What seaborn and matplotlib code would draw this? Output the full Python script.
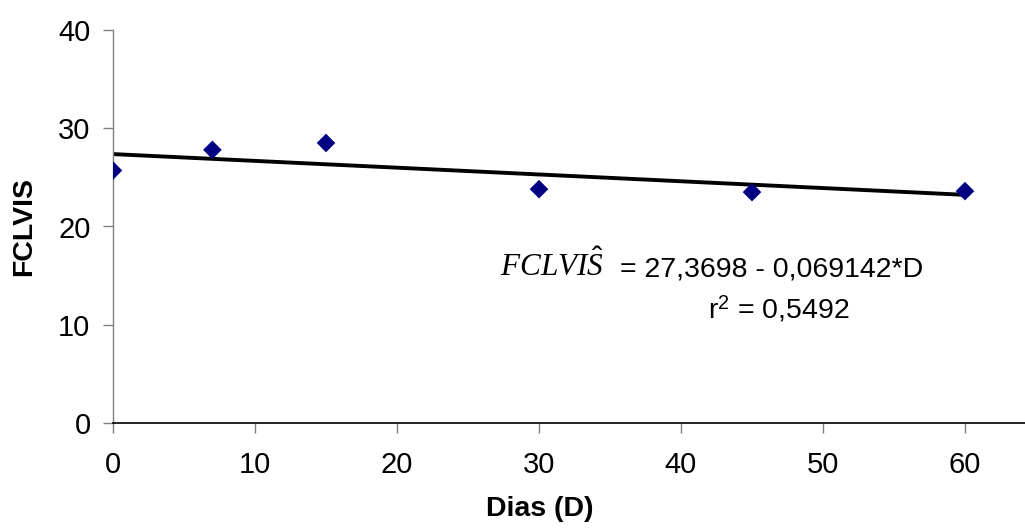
import numpy as np
import pandas as pd
import matplotlib
matplotlib.use("Agg")
import matplotlib.pyplot as plt
import seaborn as sns

# Data
dias = [0, 7, 15, 30, 45, 60]
fclvis = [25.7, 27.8, 28.5, 23.8, 23.5, 23.6]
intercept = 27.3698
slope = -0.069142
r2 = 0.5492
x_ticks = [0, 10, 20, 30, 40, 50, 60]
y_ticks = [0, 10, 20, 30, 40]

sns.set_theme(style="white")
plt.rcParams['font.family'] = ['Liberation Sans', 'DejaVu Sans']
plt.rcParams['mathtext.fontset'] = 'custom'
plt.rcParams['mathtext.rm'] = 'Liberation Sans'
plt.rcParams['mathtext.it'] = 'Liberation Serif:italic'
for k in ['text.color', 'axes.labelcolor', 'xtick.labelcolor', 'ytick.labelcolor']:
    plt.rcParams[k] = 'black'

fig = plt.figure(figsize=(10.25, 5.32), dpi=100)
ax = fig.add_axes([113/1025, 109/532, 912/1025, 393/532])

df = pd.DataFrame({"D": dias, "FCLVIS": fclvis})
fit_x = np.array([min(dias), max(dias)])
fit = pd.DataFrame({"D": fit_x, "y": intercept + slope * fit_x})

sns.lineplot(data=fit, x="D", y="y", color="black", linewidth=2.8, ax=ax, zorder=2)
sns.scatterplot(data=df, x="D", y="FCLVIS", marker="D", s=90, color="#000080",
                edgecolor="none", ax=ax, zorder=3)

ax.set_xlim(0, 912/14.2)
ax.set_ylim(0, 40)
ax.set_xticks(x_ticks)
ax.set_yticks(y_ticks)
ax.tick_params(axis='both', which='both', direction='out', length=7.2, width=1,
               color='#808080', labelsize=21, labelcolor='black')
ax.tick_params(axis='x', pad=13)
ax.tick_params(axis='y', pad=9)
ax.tick_params(left=True, bottom=True)
for s in ['top', 'right']:
    ax.spines[s].set_visible(False)
ax.spines['left'].set_color('#808080')
ax.spines['left'].set_linewidth(1)
ax.spines['bottom'].set_color('black')
ax.spines['bottom'].set_linewidth(1.2)

ax.set_xlabel("Dias (D)", fontsize=20.5, fontweight='bold', color='black')
ax.set_ylabel("FCLVIS", fontsize=20.5, fontweight='bold', color='black')
ax.xaxis.set_label_coords((540 - 113) / 912, -0.185)
ax.yaxis.set_label_coords(-(113 - 37) / 912, 0.5)

eq_rest = ("= " + f"{intercept:.4f}".replace('.', ',') + " - "
           + f"{-slope:.6f}".replace('.', ',') + "*D")
ax.text(27.25, 14.95, r"$FCLVI\hat{S}$", fontsize=22.5,
        va='baseline', ha='left', color='black')
ax.text((620 - 113) / 14.2, 14.95, eq_rest, fontsize=20.5,
        va='baseline', ha='left', color='black')
ax.text(51.9, 10.7, r"r$^{\mathrm{2}}$ = " + f"{r2:.4f}".replace('.', ','),
        fontsize=20.5, va='baseline', ha='right', color='black')

fig.savefig("out.png", dpi=100)
